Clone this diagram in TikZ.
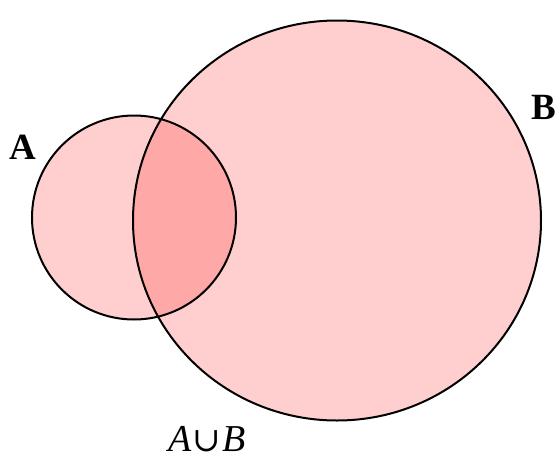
\documentclass[tikz,border=0pt]{standalone}
\usepackage{fontspec}
\setmainfont{Liberation Serif}
\newfontfamily\opfont{DejaVu Serif}
\begin{document}
\begin{tikzpicture}[x=1pt,y=-1pt,
  setfill/.style={fill=red, fill opacity=0.19},
  setline/.style={draw=black, line width=2pt},
  setlabel/.style={font=\fontsize{37}{37}\selectfont\bfseries, inner sep=0pt}]
\useasboundingbox (0,0) rectangle (557,461);
\fill[setfill] (134,217.5) circle [radius=102];
\fill[setfill] (337,220.5) ellipse [x radius=204, y radius=200];
\draw[setline] (134,217.5) circle [radius=102];
\draw[setline] (337,220.5) ellipse [x radius=204, y radius=200];
\node[setlabel] (la) at (22.5,147) {A};
\node[setlabel] (lb) at (544,107.5) {B};
\node[inner sep=0pt, anchor=base, font=\fontsize{38}{38}\selectfont] (lu) at (207,451) {\itshape A\kern1pt{\upshape\opfont\fontsize{34}{34}\selectfont ∪}\kern1pt B};
\end{tikzpicture}
\end{document}
